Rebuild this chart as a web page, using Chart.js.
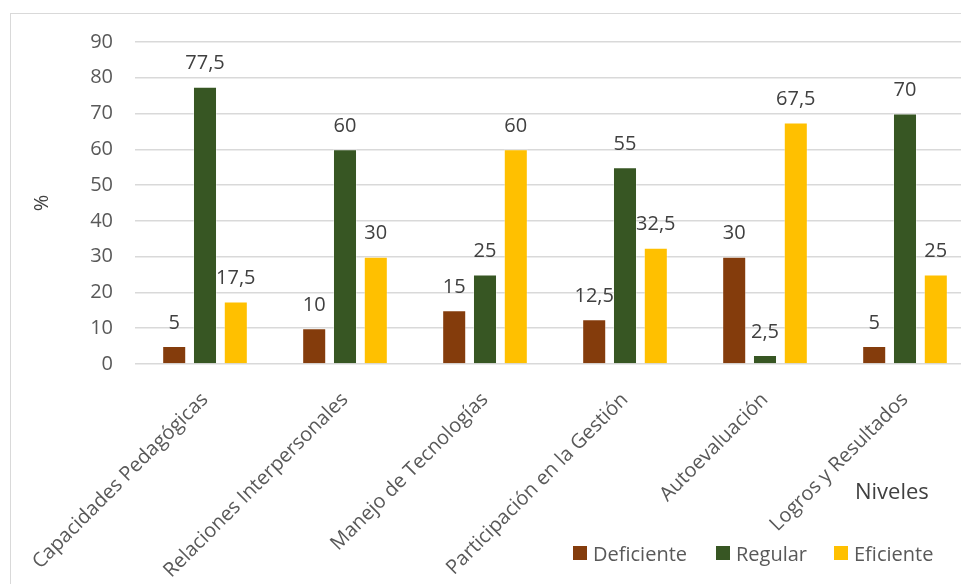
<!DOCTYPE html>
<html>
<head>
<meta charset="utf-8">
<script src="https://cdn.jsdelivr.net/npm/chart.js@4.4.0/dist/chart.umd.min.js"></script>
<style>
  html, body { margin: 0; padding: 0; background: #fff; }
  #wrap { position: relative; width: 961px; height: 584px; overflow: hidden; font-family: "Open Sans", sans-serif; }
  #frame { position: absolute; left: 10px; top: 13px; width: 1100px; height: 700px; border: 1.5px solid #d9d9d9; box-sizing: border-box; }
  #chart-box { position: absolute; left: 0; top: 0; width: 1000px; height: 584px; }
  #niveles { position: absolute; left: 855px; top: 475px; font-size: 22px; color: #404040; }
  #legend { position: absolute; left: 0; top: 539px; width: 961px; height: 30px; font-size: 20px; color: #595959; }
  #legend .item { position: absolute; top: 0; display: flex; align-items: center; height: 28px; }
  #legend .box { width: 14px; height: 14px; margin-right: 6px; }
</style>
</head>
<body>
<div id="wrap">
  <div id="frame"></div>
  <div id="chart-box"><canvas id="niveles-chart" width="1000" height="584"></canvas></div>
  <div id="niveles">Niveles</div>
  <div id="legend"></div>
</div>
<script>
const categories = ['Capacidades Pedagógicas', 'Relaciones Interpersonales', 'Manejo de Tecnologías',
                    'Participación en la Gestión', 'Autoevaluación', 'Logros y Resultados'];
const deficiente = [5, 10, 15, 12.5, 30, 5];
const regular = [77.5, 60, 25, 55, 2.5, 70];
const eficiente = [17.5, 30, 60, 32.5, 67.5, 25];
const yTicks = [0, 10, 20, 30, 40, 50, 60, 70, 80, 90];

const seriesNames = ['Deficiente', 'Regular', 'Eficiente'];
const seriesColors = ['#843c0c', '#375623', '#ffc000'];
const legendLeft = [573, 716, 834];
const FONT = '"Open Sans", sans-serif';

// valores encima de cada barra, con coma decimal
const valueLabels = {
    id: 'valueLabels',
    afterDatasetsDraw(chart) {
        const ctx = chart.ctx;
        ctx.save();
        ctx.font = '20px ' + FONT;
        ctx.fillStyle = '#404040';
        ctx.textAlign = 'center';
        ctx.textBaseline = 'middle';
        chart.data.datasets.forEach((ds, i) => {
            chart.getDatasetMeta(i).data.forEach((bar, j) => {
                ctx.fillText(String(ds.data[j]).replace('.', ','), bar.x, bar.y - 23);
            });
        });
        ctx.restore();
    }
};

const datasets = [deficiente, regular, eficiente].map((vals, i) => ({
    label: seriesNames[i],
    data: vals,
    backgroundColor: seriesColors[i],
    borderColor: 'rgba(255,255,255,0.35)',
    borderWidth: 1,
    categoryPercentage: 0.66,
    barPercentage: 0.78
}));

new Chart(document.getElementById('niveles-chart').getContext('2d'), {
    type: 'bar',
    data: { labels: categories, datasets },
    options: {
        responsive: false,
        animation: false,
        layout: { padding: { left: 20, top: 42, right: 25, bottom: 0 } },
        plugins: { legend: { display: false }, tooltip: { enabled: false } },
        scales: {
            x: {
                grid: { display: false },
                border: { display: false },
                ticks: { minRotation: 45, maxRotation: 45, padding: 16, color: '#595959', font: { family: FONT, size: 20 } },
                afterFit(s) { s.height = 220; }
            },
            y: {
                min: 0, max: 90,
                afterBuildTicks(s) { s.ticks = yTicks.map(v => ({ value: v })); },
                grid: { color: '#d9d9d9', lineWidth: 1.5, drawTicks: false },
                border: { display: false },
                ticks: { padding: 22, color: '#595959', font: { family: FONT, size: 20 } },
                title: { display: true, text: '%', color: '#404040', padding: { top: 10 }, font: { family: FONT, size: 20 } },
                afterFit(s) { s.width = 115; }
            }
        }
    },
    plugins: [valueLabels]
});

// leyenda
const legend = document.getElementById('legend');
seriesNames.forEach((name, i) => {
    const item = document.createElement('div');
    item.className = 'item';
    item.style.left = legendLeft[i] + 'px';
    item.innerHTML = `<span class="box" style="background:${seriesColors[i]}"></span><span>${name}</span>`;
    legend.appendChild(item);
});
</script>
</body>
</html>
